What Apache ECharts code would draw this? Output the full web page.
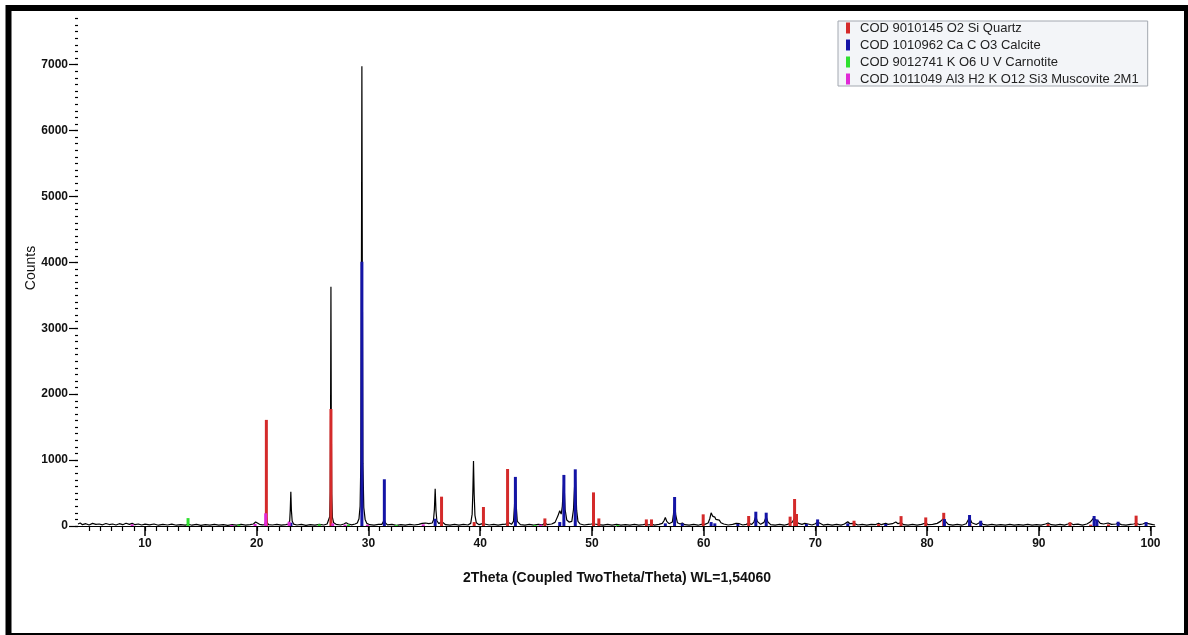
<!DOCTYPE html>
<html>
<head>
<meta charset="utf-8">
<script src="https://cdn.jsdelivr.net/npm/echarts@6/dist/echarts.min.js"></script>
<style>
  html, body { margin: 0; padding: 0; background: #fff; }
  #chart { width: 1188px; height: 635px; }
</style>
</head>
<body>
<div id="chart"></div>
<script>
// Measured diffractogram: [2Theta, counts]
const pattern = [
  [4.0,30],[4.2,45],[4.4,20],[4.7,35],[5.0,15],[5.3,40],[5.6,25],[5.9,30],[6.2,18],[6.5,38],[6.8,22],[7.1,30],
  [7.4,15],[7.7,35],[8.0,20],[8.3,42],[8.6,25],[8.85,40],[9.1,20],[9.4,30],[9.7,15],[10.0,28],[10.4,18],[10.8,30],
  [11.2,12],[11.6,25],[12.0,15],[12.4,28],[12.8,12],[13.2,22],[13.6,14],[13.9,26],[14.2,12],[14.6,24],[15.0,10],
  [15.4,22],[15.8,14],[16.2,25],[16.6,12],[17.0,22],[17.4,10],[17.8,20],[18.2,12],[18.6,24],[19.0,14],[19.4,22],
  [19.7,30],[19.9,60],[20.05,55],[20.25,25],[20.5,18],
  [20.7,22],[20.8,60],[20.86,150],[20.92,55],[21.05,20],
  [21.4,15],[21.8,25],[22.2,12],[22.6,22],
  [22.85,30],[22.95,80],[23.0,250],[23.05,521],[23.1,240],[23.17,75],[23.3,28],
  [23.6,15],[24.0,25],[24.4,10],[24.8,22],[25.2,12],[25.6,24],[26.0,15],[26.3,30],
  [26.45,60],[26.53,140],[26.58,520],[26.61,1800],[26.64,3630],[26.67,1700],[26.71,480],[26.77,130],[26.88,50],
  [27.1,25],[27.5,15],[27.8,30],[28.0,48],[28.2,30],[28.5,18],[28.8,30],
  [29.0,45],[29.15,110],[29.25,300],[29.32,1000],[29.37,3900],[29.41,6975],[29.45,3800],[29.5,950],[29.58,280],
  [29.7,100],[29.85,40],
  [30.1,20],[30.5,12],[30.9,24],[31.2,25],[31.35,55],[31.42,95],[31.5,50],[31.7,18],[32.1,25],[32.5,10],[32.9,22],
  [33.3,12],[33.7,24],[34.1,15],[34.5,25],[34.8,40],[35.1,45],[35.4,35],[35.7,45],
  [35.82,90],[35.9,250],[35.97,565],[36.04,240],[36.12,80],
  [36.3,35],[36.45,45],[36.54,70],[36.62,40],[36.9,20],[37.3,12],[37.7,25],[38.1,14],[38.5,24],[38.9,15],[39.15,40],
  [39.28,180],[39.34,500],[39.4,985],[39.46,480],[39.53,160],[39.65,50],
  [39.9,20],[40.2,35],[40.29,55],[40.4,30],[40.8,15],[41.2,25],[41.6,12],[42.0,24],[42.3,28],[42.45,60],[42.55,30],
  [42.8,25],[42.98,70],[43.07,300],[43.15,730],[43.23,290],[43.32,70],
  [43.6,20],[44.0,12],[44.4,24],[44.8,14],[45.2,24],[45.6,18],[45.79,45],[46.0,22],[46.4,30],[46.7,55],[46.95,150],
  [47.12,232],[47.25,180],[47.35,300],[47.49,720],[47.6,250],[47.75,90],[47.95,60],[48.2,70],[48.35,250],
  [48.51,820],[48.63,240],[48.75,70],[48.95,30],
  [49.3,15],[49.7,25],[50.0,30],[50.14,65],[50.25,30],[50.6,22],[51.0,12],[51.4,25],[51.8,14],[52.2,24],[52.6,12],
  [53.0,22],[53.4,14],[53.8,25],[54.2,12],[54.6,22],[54.87,30],[55.1,15],[55.33,28],[55.6,14],[56.0,25],[56.3,40],
  [56.45,80],[56.57,130],[56.7,70],[56.9,35],[57.2,60],[57.3,180],[57.4,350],[57.5,170],[57.65,50],[57.9,30],
  [58.09,45],[58.3,20],[58.7,14],[59.1,25],[59.5,12],[59.8,25],[59.96,50],[60.1,25],[60.4,45],
  [60.55,110],[60.67,200],[60.8,150],[60.9,120],[61.0,135],[61.1,100],[61.25,95],[61.4,90],[61.55,50],[61.8,30],
  [62.2,15],[62.6,25],[62.9,40],[63.06,55],[63.2,35],[63.5,15],[63.8,24],[64.03,40],[64.3,25],[64.5,60],[64.67,150],
  [64.8,70],[65.1,25],[65.4,55],[65.6,140],[65.75,60],[66.0,20],
  [66.4,14],[66.8,24],[67.2,12],[67.5,25],[67.74,40],[67.95,60],[68.14,120],[68.3,70],[68.5,40],[68.8,25],[69.05,40],
  [69.2,55],[69.35,30],[69.7,15],[70.0,35],[70.2,60],[70.35,30],[70.7,14],[71.1,25],[71.5,12],[71.9,24],[72.3,14],
  [72.6,30],[72.9,65],[73.1,35],[73.46,40],[73.8,15],[74.2,25],[74.6,12],[75.0,24],[75.4,22],[75.66,40],[75.9,20],
  [76.3,40],[76.5,25],[76.9,35],[77.2,60],[77.4,35],[77.67,50],[77.9,20],[78.3,14],[78.7,25],[79.1,12],[79.5,24],
  [79.88,45],[80.1,20],[80.5,25],[80.9,40],[81.2,70],[81.5,120],[81.7,60],[81.9,25],[82.3,14],[82.7,25],[83.1,12],
  [83.5,35],[83.8,130],[84.0,50],[84.4,22],[84.8,60],[85.0,25],[85.4,14],[85.8,24],[86.2,12],[86.6,22],[87.0,14],
  [87.4,24],[87.8,12],[88.2,22],[88.6,14],[89.0,24],[89.4,12],[89.8,22],[90.2,14],[90.6,30],[90.83,45],[91.1,20],
  [91.5,14],[91.9,24],[92.3,14],[92.6,30],[92.8,45],[93.1,20],[93.5,28],[93.9,14],[94.3,30],[94.6,60],[94.9,120],
  [95.1,90],[95.3,80],[95.5,40],[95.8,30],[96.2,45],[96.5,25],[96.9,30],[97.1,40],[97.4,20],[97.8,14],[98.2,24],
  [98.5,30],[98.71,40],[99.0,22],[99.3,30],[99.6,50],[99.8,35],[100.1,25],[100.4,15]
];

// Reference phase sticks: [2Theta, counts]
const quartz = [
  [20.86,1610],[26.64,1776],[36.54,445],[39.46,60],[40.29,288],[42.45,865],[45.79,115],[50.14,510],[50.62,115],
  [54.87,100],[55.33,100],[59.96,177],[64.03,152],[67.74,142],[68.14,410],[68.31,182],[73.46,80],[75.66,30],
  [77.67,150],[79.88,130],[81.49,200],[83.84,30],[90.83,30],[92.79,56],[94.64,20],[96.23,25],[98.71,157]
];
const calcite = [
  [23.06,50],[29.41,4010],[31.42,709],[35.97,110],[43.15,745],[47.12,60],[47.49,775],[48.51,860],[56.57,40],
  [57.40,440],[58.09,40],[60.67,60],[61.0,40],[63.06,30],[64.67,217],[65.60,202],[69.2,30],[70.2,100],[72.9,40],
  [76.3,30],[81.55,105],[83.8,167],[84.8,80],[94.95,152],[95.2,100],[97.1,65],[99.6,60]
];
const carnotite = [
  [13.85,120],[18.4,20],[25.6,25],[28.2,20],[32.5,15],[44.9,15],[52.3,15]
];
const muscovite = [
  [8.85,25],[17.75,15],[19.85,30],[20.8,193],[22.9,65],[26.8,40],[27.9,20],[29.9,20],[34.9,25],[45.4,20]
];

const phaseNames = [
  'COD 9010145 O2 Si Quartz',
  'COD 1010962 Ca C O3 Calcite',
  'COD 9012741 K O6 U V Carnotite',
  'COD 1011049 Al3 H2 K O12 Si3 Muscovite 2M1'
];
const phaseColors = ['#d42a2a', '#1414a6', '#2fe02f', '#e02ad6'];

const xLabelTicks = [10, 20, 30, 40, 50, 60, 70, 80, 90, 100];
const yLabelTicks = [0, 1000, 2000, 3000, 4000, 5000, 6000, 7000];

const xMinorTicks = [];
for (let t = 5; t <= 100; t++) xMinorTicks.push(t);
const yMinorTicks = [];
for (let c = 0; c <= 7700; c += 100) yMinorTicks.push(c);

const X_MIN = 4, X_MAX = 100.4, Y_MIN = 0, Y_MAX = 7700;
const FONT = 'Liberation Sans, Arial, sans-serif';

const chart = echarts.init(document.getElementById('chart'), null, { renderer: 'canvas' });

function stickSeries(name, data, color, z) {
  return {
    name: name,
    type: 'bar',
    data: data,
    barWidth: 3,
    barGap: '-100%',
    itemStyle: { color: color },
    z: z,
    silent: true,
    animation: false
  };
}

chart.setOption({
  backgroundColor: '#ffffff',
  animation: false,
  grid: { left: 78, right: 33, top: 18.5, bottom: 109, containLabel: false },
  legend: {
    data: phaseNames,
    orient: 'vertical',
    left: 838,
    top: 21,
    icon: 'rect',
    itemWidth: 4,
    itemHeight: 11,
    itemGap: 3,
    padding: [0, 9, 0, 8],
    backgroundColor: '#f3f5f8',
    borderColor: '#a3a8b0',
    borderWidth: 1,
    borderRadius: 0,
    selectedMode: false,
    textStyle: { fontFamily: FONT, fontSize: 13, color: '#222', lineHeight: 14, padding: [0, 0, 0, 5] }
  },
  xAxis: [
    {
      type: 'value', min: X_MIN, max: X_MAX, position: 'bottom',
      axisLine: { show: true, lineStyle: { color: '#000', width: 1 } },
      axisTick: { show: true, customValues: xLabelTicks, length: 10, lineStyle: { color: '#000', width: 1.5 } },
      axisLabel: { show: true, customValues: xLabelTicks, margin: 12, fontFamily: FONT, fontSize: 12, fontWeight: 'bold', color: '#111',
        formatter: (v) => String(v) },
      splitLine: { show: false }
    },
    {
      type: 'value', min: X_MIN, max: X_MAX, position: 'bottom', offset: 0,
      axisLine: { show: false },
      axisTick: { show: true, customValues: xMinorTicks, length: 5, lineStyle: { color: '#000', width: 1.2 } },
      axisLabel: { show: false },
      splitLine: { show: false }
    }
  ],
  yAxis: [
    {
      type: 'value', min: Y_MIN, max: Y_MAX, position: 'left',
      axisLine: { show: false },
      axisTick: { show: true, customValues: yLabelTicks, length: 9, lineStyle: { color: '#000', width: 1.2 } },
      axisLabel: { show: true, customValues: yLabelTicks, margin: 10, fontFamily: FONT, fontSize: 12, fontWeight: 'bold', color: '#111',
        formatter: (v) => String(v) },
      splitLine: { show: false }
    },
    {
      type: 'value', min: Y_MIN, max: Y_MAX, position: 'left', offset: 0,
      axisLine: { show: false },
      axisTick: { show: true, customValues: yMinorTicks, length: 3, lineStyle: { color: '#000', width: 1.2 } },
      axisLabel: { show: false },
      splitLine: { show: false }
    }
  ],
  series: [
    {
      name: 'pattern',
      type: 'line',
      data: pattern,
      symbol: 'none',
      lineStyle: { color: '#000', width: 1.2 },
      z: 1,
      silent: true
    },
    stickSeries(phaseNames[0], quartz, phaseColors[0], 2),
    stickSeries(phaseNames[1], calcite, phaseColors[1], 3),
    stickSeries(phaseNames[2], carnotite, phaseColors[2], 4),
    stickSeries(phaseNames[3], muscovite, phaseColors[3], 5)
  ],
  graphic: [
    {
      type: 'rect',
      shape: { x: 8.5, y: 8, width: 1178.5, height: 628 },
      style: { fill: 'none', stroke: '#000', lineWidth: 6 },
      silent: true, z: 100
    },
    {
      type: 'text',
      x: 31, y: 268,
      rotation: Math.PI / 2,
      style: { text: 'Counts', fontFamily: FONT, fontSize: 14, fill: '#111', align: 'center', verticalAlign: 'middle' },
      silent: true
    },
    {
      type: 'text',
      x: 617, y: 578,
      style: { text: '2Theta (Coupled TwoTheta/Theta) WL=1,54060', fontFamily: FONT, fontSize: 14, fontWeight: 'bold', fill: '#111', align: 'center', verticalAlign: 'middle' },
      silent: true
    }
  ]
});
</script>
</body>
</html>
